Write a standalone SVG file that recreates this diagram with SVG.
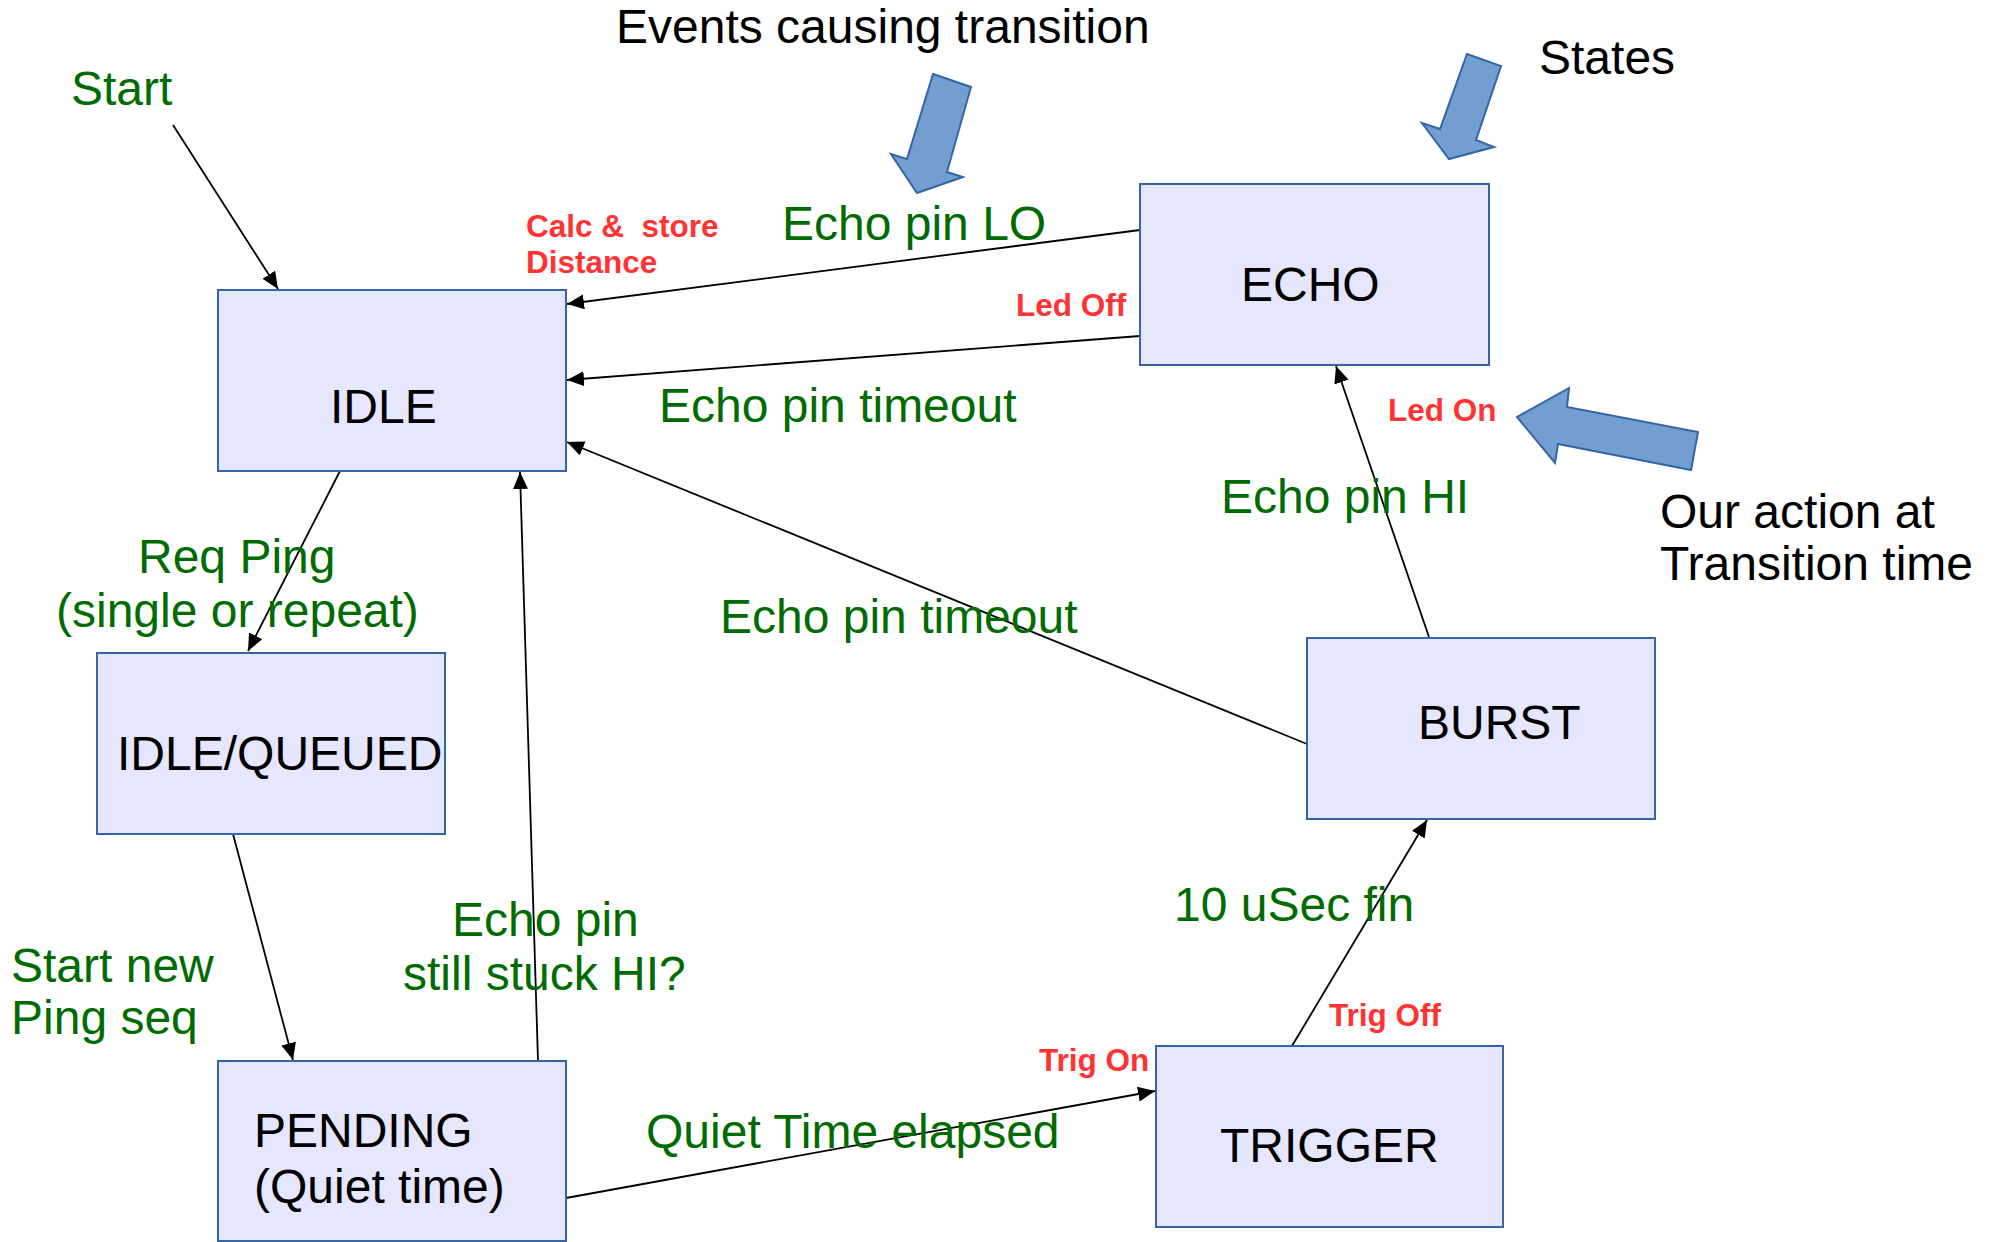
<svg xmlns="http://www.w3.org/2000/svg" width="1996" height="1242" viewBox="0 0 1996 1242">
  <defs>
    <style>
      .state rect { fill: #e6e6ff; stroke: #3465a4; stroke-width: 2; }
      .state text { font-family: "Liberation Sans", Arial, sans-serif; font-size: 48px; fill: #000; }
      .event { font-family: "Liberation Sans", Arial, sans-serif; font-size: 48px; fill: #006b00; }
      .action { font-family: "Liberation Sans", Arial, sans-serif; font-size: 31.5px; font-weight: bold; fill: #ff3333; }
      .note { font-family: "Liberation Sans", Arial, sans-serif; font-size: 48px; fill: #000; }
      .edge { fill: none; stroke: #000; stroke-width: 1.8; marker-end: url(#head); }
      .pointer { fill: #729fcf; stroke: #3465a4; stroke-width: 2; }
    </style>
    <marker id="head" markerUnits="userSpaceOnUse" markerWidth="18" markerHeight="16" refX="17" refY="7.5" orient="auto">
      <path d="M0,0 L17,7.5 L0,15 z" fill="#000"/>
    </marker>
  </defs>

  <rect width="1996" height="1242" fill="#fff"/>

  <!-- transitions -->
  <g id="connectors">
    <line class="edge" x1="173" y1="125" x2="278" y2="289"/>
    <line class="edge" x1="1140" y1="230" x2="567" y2="304"/>
    <line class="edge" x1="1140" y1="336" x2="567" y2="380"/>
    <line class="edge" x1="1307" y1="744" x2="567" y2="442"/>
    <line class="edge" x1="340" y1="471" x2="248" y2="651"/>
    <line class="edge" x1="233" y1="834" x2="293" y2="1060"/>
    <line class="edge" x1="538" y1="1061" x2="520" y2="472"/>
    <line class="edge" x1="566" y1="1198" x2="1155" y2="1091"/>
    <line class="edge" x1="1292" y1="1046" x2="1427" y2="820"/>
    <line class="edge" x1="1429" y1="637" x2="1336" y2="366"/>
  </g>

  <!-- states -->
  <g id="idle" class="state">
    <rect x="218" y="290" width="348" height="181"/>
    <text x="330" y="423">IDLE</text>
  </g>
  <g id="idle-queued" class="state">
    <rect x="97" y="653" width="348" height="181"/>
    <text x="117" y="770">IDLE/QUEUED</text>
  </g>
  <g id="pending" class="state">
    <rect x="218" y="1061" width="348" height="180"/>
    <text x="254" y="1147">PENDING</text>
    <text x="254" y="1203">(Quiet time)</text>
  </g>
  <g id="trigger" class="state">
    <rect x="1156" y="1046" width="347" height="181"/>
    <text x="1220" y="1162">TRIGGER</text>
  </g>
  <g id="burst" class="state">
    <rect x="1307" y="638" width="348" height="181"/>
    <text x="1418" y="739">BURST</text>
  </g>
  <g id="echo" class="state">
    <rect x="1140" y="184" width="349" height="181"/>
    <text x="1241" y="301">ECHO</text>
  </g>

  <!-- transition events -->
  <g id="events">
    <text class="event" x="71" y="105">Start</text>
    <text class="event" x="782" y="240">Echo pin LO</text>
    <text class="event" x="659" y="422">Echo pin timeout</text>
    <text class="event" x="138" y="573">Req Ping</text>
    <text class="event" x="56" y="627">(single or repeat)</text>
    <text class="event" x="720" y="633">Echo pin timeout</text>
    <text class="event" x="11" y="982">Start new</text>
    <text class="event" x="11" y="1034">Ping seq</text>
    <text class="event" x="452" y="936">Echo pin</text>
    <text class="event" x="403" y="990">still stuck HI?</text>
    <text class="event" x="646" y="1148">Quiet Time elapsed</text>
    <text class="event" x="1174" y="921">10 uSec fin</text>
    <text class="event" x="1221" y="513">Echo pin HI</text>
  </g>

  <!-- actions on transition -->
  <g id="actions">
    <text class="action" x="526" y="237">Calc &amp;&#160; store</text>
    <text class="action" x="526" y="273">Distance</text>
    <text class="action" x="1016" y="316">Led Off</text>
    <text class="action" x="1388" y="421">Led On</text>
    <text class="action" x="1329" y="1026">Trig Off</text>
    <text class="action" x="1039" y="1071">Trig On</text>
  </g>

  <!-- legend -->
  <g id="legend">
    <text class="note" x="616" y="43">Events causing transition</text>
    <text class="note" x="1539" y="74">States</text>
    <text class="note" x="1660" y="528">Our action at</text>
    <text class="note" x="1660" y="580">Transition time</text>
    <polygon class="pointer" points="933,74 971,87 947,172 963,177 917,193 891,154 907,159"/>
    <polygon class="pointer" points="1467,54 1501,66 1476,140 1494,147 1449,159 1422,123 1440,129"/>
    <polygon class="pointer" points="1698,432 1691,470 1558,444 1555,463 1517,417 1569,388 1567,407"/>
  </g>
</svg>
